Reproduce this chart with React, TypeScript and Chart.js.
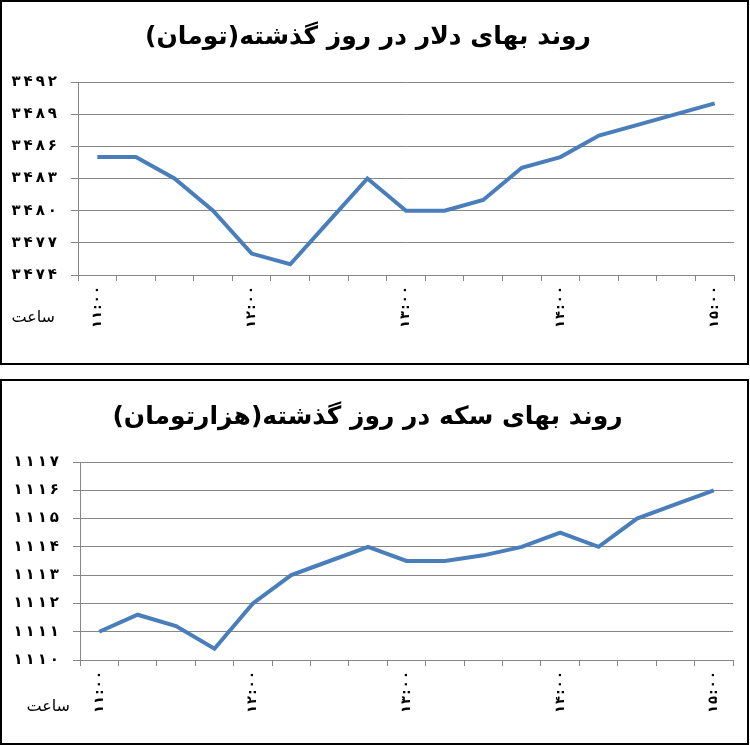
import { useRef, useEffect } from 'react';
import { Chart, registerables, Plugin } from 'chart.js';

Chart.register(...registerables);

// categories: every quarter hour from 11:00 to 15:00 (only whole hours are labelled)
const hours = [
  '۱۱:۰۰', '۱۱:۱۵', '۱۱:۳۰', '۱۱:۴۵',
  '۱۲:۰۰', '۱۲:۱۵', '۱۲:۳۰', '۱۲:۴۵',
  '۱۳:۰۰', '۱۳:۱۵', '۱۳:۳۰', '۱۳:۴۵',
  '۱۴:۰۰', '۱۴:۱۵', '۱۴:۳۰', '۱۴:۴۵',
  '۱۵:۰۰',
];

const dollarPrices = [3485, 3485, 3483, 3480, 3476, 3475, 3479, 3483, 3480, 3480, 3481, 3484, 3485, 3487, 3488, 3489, 3490];
const coinPrices = [1111, 1111.6, 1111.2, 1110.4, 1112, 1113, 1113.5, 1114, 1113.5, 1113.5, 1113.7, 1114, 1114.5, 1114, 1115, 1115.5, 1116];

const dollarTicks = [3474, 3492, 3]; // min, max, step
const coinTicks = [1110, 1117, 1];

const dollarTitle = 'روند بهای دلار در روز گذشته(تومان)';
const coinTitle = 'روند بهای سکه در روز گذشته(هزارتومان)';
const hourLabel = 'ساعت';

const faDigits = '۰۱۲۳۴۵۶۷۸۹';
const toFa = (n: number) =>
  String(n).split('').map(c => faDigits[+c] ?? c).join('\u2009');

const spaced = (s: string) => s.split('').join('\u200a');
// right-to-left marks keep the closing bracket where it belongs
const rtl = (s: string) => '\u200f' + s + '\u200f';

interface BoxProps {
  title: string;
  values: number[];
  range: number[];
  height: number;
  yWidth: number;
  xHeight: number;
  rightPad: number;
  titleTop: number;
  titleBottom: number;
  hourRight: number;
  hourDown: number;
}

const PriceChart = (p: BoxProps) => {
  const chartRef = useRef<HTMLCanvasElement | null>(null);
  const chartInstance = useRef<Chart | null>(null);

  useEffect(() => {
    if (!chartRef.current) return;
    if (chartInstance.current) chartInstance.current.destroy();

    const hourText: Plugin = {
      id: 'hourText',
      afterDraw(chart) {
        const ctx = chart.ctx;
        ctx.save();
        ctx.fillStyle = '#000';
        ctx.font = '16px "DejaVu Sans"';
        ctx.textAlign = 'right';
        ctx.textBaseline = 'middle';
        ctx.fillText(hourLabel, p.hourRight, chart.chartArea.bottom + p.hourDown);
        ctx.restore();
      },
    };

    chartInstance.current = new Chart(chartRef.current, {
      type: 'line',
      data: {
        labels: hours,
        datasets: [{
          data: p.values,
          borderColor: '#4a7ebb',
          borderWidth: 4,
          pointRadius: 0,
          tension: 0,
        }],
      },
      options: {
        responsive: false,
        animation: false,
        layout: { padding: { right: p.rightPad } },
        plugins: {
          legend: { display: false },
          tooltip: { enabled: false },
          title: {
            display: true,
            text: rtl(p.title),
            color: '#000',
            font: { family: '"DejaVu Sans"', size: 25, weight: 'bold' },
            padding: { top: p.titleTop, bottom: p.titleBottom },
          },
        },
        scales: {
          x: {
            offset: true,
            grid: { offset: true, drawOnChartArea: false, tickLength: 6, color: '#868686' },
            border: { color: '#868686' },
            ticks: {
              autoSkip: false,
              minRotation: 90,
              maxRotation: 90,
              color: '#000',
              padding: 5,
              font: { family: '"DejaVu Sans"', size: 13, weight: 'bold' },
              callback: (_v, i) => (i % 4 === 0 ? spaced(hours[i]) : ''),
            },
            afterFit: (scale) => { scale.height = p.xHeight; },
          },
          y: {
            min: p.range[0],
            max: p.range[1],
            grid: { tickLength: 7, color: '#868686' },
            border: { color: '#868686' },
            ticks: {
              stepSize: p.range[2],
              color: '#000',
              padding: 14,
              font: { family: '"DejaVu Sans"', size: 15, weight: 'bold' },
              callback: (v) => toFa(Number(v)),
            },
            afterFit: (scale) => { scale.width = p.yWidth; },
          },
        },
      },
      plugins: [hourText],
    });

    return () => {
      if (chartInstance.current) {
        chartInstance.current.destroy();
        chartInstance.current = null;
      }
    };
  }, [p]);

  return (
    <div style={{ border: '2px solid #000', width: 745, height: p.height, background: '#fff' }}>
      <canvas ref={chartRef} width={745} height={p.height} />
    </div>
  );
};

const dollarBox: BoxProps = {
  title: dollarTitle, values: dollarPrices, range: dollarTicks, height: 361,
  yWidth: 76, xHeight: 88, rightPad: 13, titleTop: 20, titleBottom: 30,
  hourRight: 53, hourDown: 43,
};

const coinBox: BoxProps = {
  title: coinTitle, values: coinPrices, range: coinTicks, height: 362,
  yWidth: 78, xHeight: 83, rightPad: 14, titleTop: 21, titleBottom: 30,
  hourRight: 68, hourDown: 47,
};

export default function App() {
  useEffect(() => {
    document.body.style.margin = '0';
  }, []);

  return (
    <div style={{ width: 750, background: '#fff' }}>
      <PriceChart {...dollarBox} />
      <div style={{ height: 14 }} />
      <PriceChart {...coinBox} />
    </div>
  );
}
